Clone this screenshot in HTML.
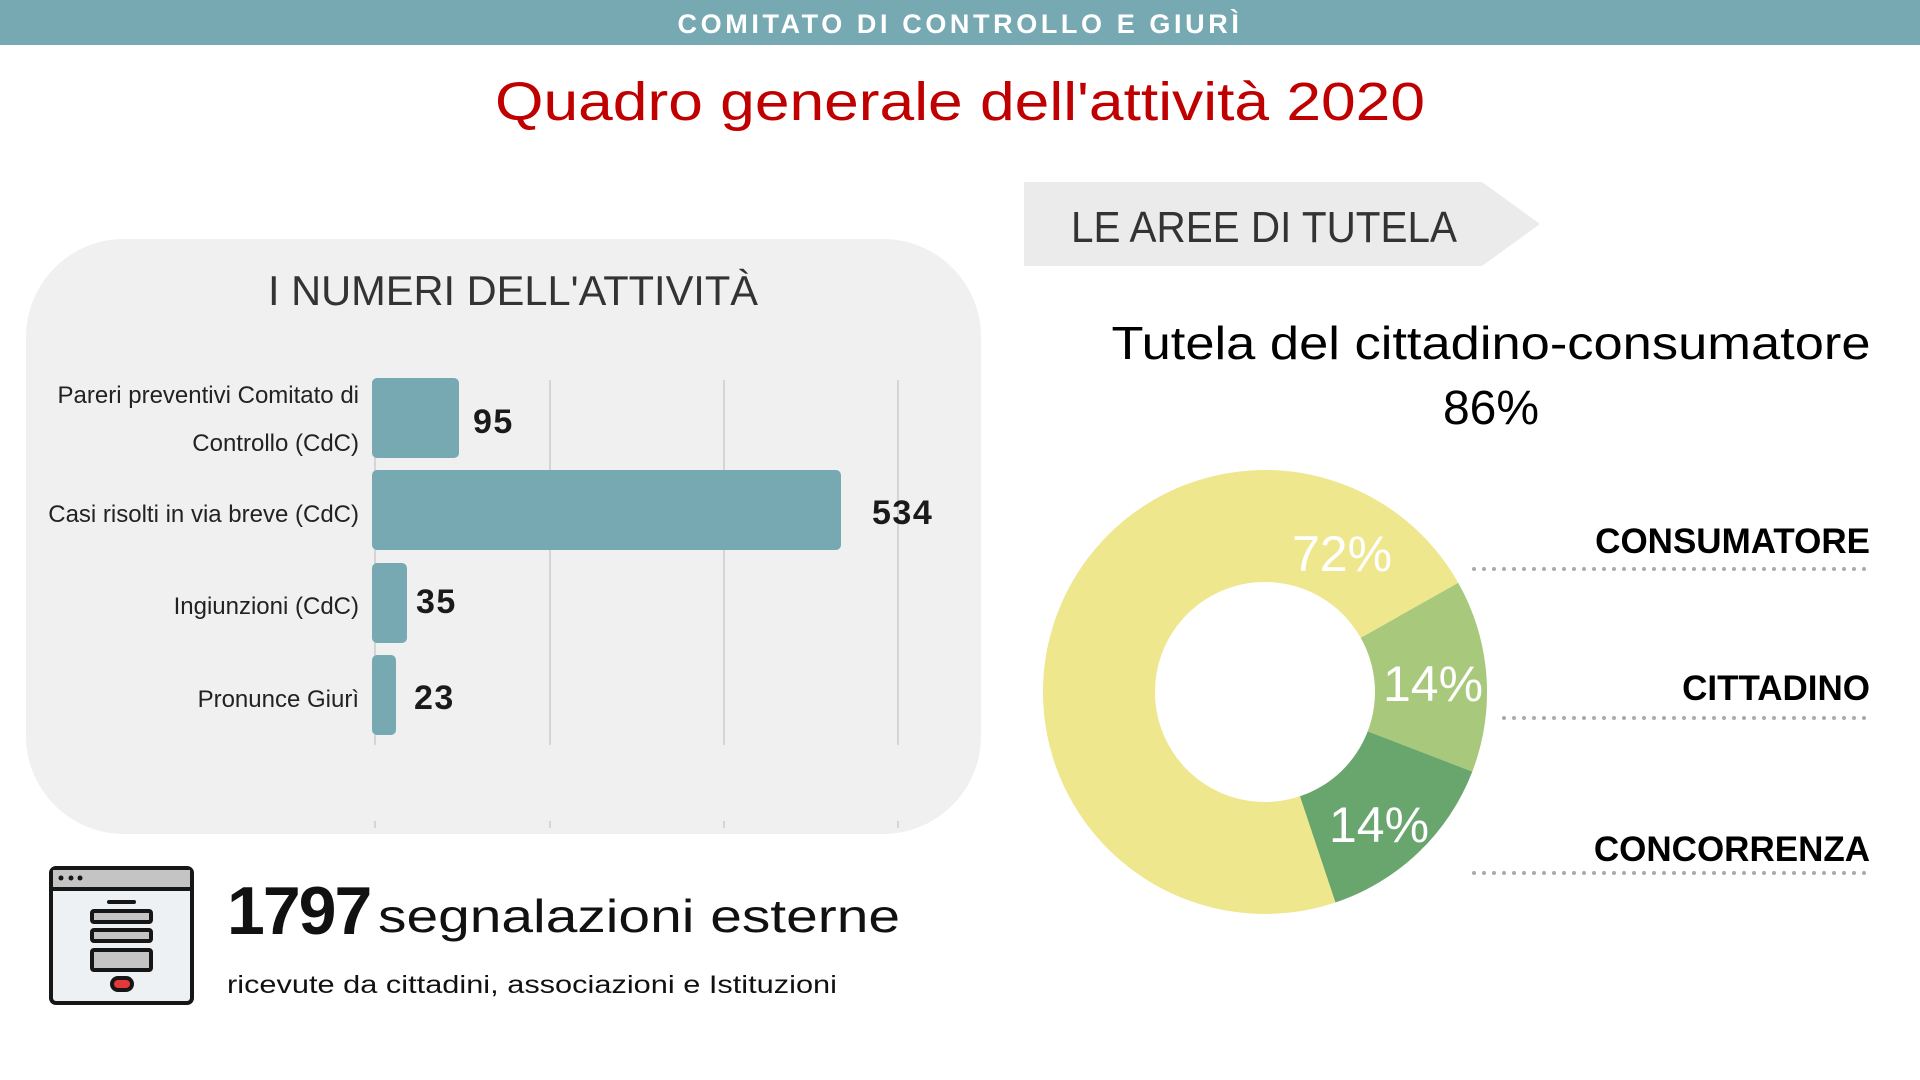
<!DOCTYPE html>
<html><head><meta charset="utf-8"><style>
html,body{margin:0;padding:0;background:#fff;}
svg{display:block;}
</style></head><body>
<svg width="1920" height="1080" viewBox="0 0 1920 1080" xmlns="http://www.w3.org/2000/svg" font-family="'Liberation Sans', sans-serif">
<rect x="0" y="0" width="1920" height="45" fill="#77a9b3"/>
<text x="960" y="33" text-anchor="middle" font-size="27" font-weight="bold" fill="#fff" letter-spacing="3.6">COMITATO DI CONTROLLO E GIURÌ</text>
<text x="960" y="120" text-anchor="middle" font-size="54" fill="#c00000" textLength="930" lengthAdjust="spacingAndGlyphs">Quadro generale dell'attività 2020</text>

<rect x="26" y="239" width="955" height="595" rx="98" fill="#f0f0f0"/>
<text x="513" y="305" text-anchor="middle" font-size="42" fill="#333" textLength="490" lengthAdjust="spacingAndGlyphs">I NUMERI DELL'ATTIVITÀ</text>
<g stroke="#cccccc" stroke-width="1.5">
<line x1="375" y1="380" x2="375" y2="745"/><line x1="550" y1="380" x2="550" y2="745"/><line x1="724" y1="380" x2="724" y2="745"/><line x1="898" y1="380" x2="898" y2="745"/>
<line x1="375" y1="821" x2="375" y2="828"/><line x1="550" y1="821" x2="550" y2="828"/><line x1="724" y1="821" x2="724" y2="828"/><line x1="898" y1="821" x2="898" y2="828"/>
</g>
<g fill="#77a9b3">
<rect x="372" y="378" width="87" height="80" rx="5"/>
<rect x="372" y="470" width="469" height="80" rx="5"/>
<rect x="372" y="563" width="35" height="80" rx="5"/>
<rect x="372" y="655" width="24" height="80" rx="5"/>
</g>
<g font-size="34" font-weight="bold" fill="#1a1a1a" letter-spacing="1.5">
<text x="473" y="433">95</text>
<text x="872" y="524">534</text>
<text x="416" y="613">35</text>
<text x="414" y="709">23</text>
</g>
<g font-size="24" fill="#222" text-anchor="end">
<text x="359" y="403">Pareri preventivi Comitato di</text>
<text x="359" y="451">Controllo (CdC)</text>
<text x="359" y="522">Casi risolti in via breve (CdC)</text>
<text x="359" y="614">Ingiunzioni (CdC)</text>
<text x="359" y="707">Pronunce Giurì</text>
</g>

<!-- icon -->
<g>
<rect x="51" y="868" width="141" height="135" rx="5" fill="#edf1f4" stroke="#161616" stroke-width="4"/>
<rect x="53" y="870" width="137" height="18" fill="#c4c4c4"/>
<line x1="51" y1="889" x2="192" y2="889" stroke="#161616" stroke-width="4"/>
<circle cx="61" cy="878" r="2.5" fill="#161616"/><circle cx="71" cy="878" r="2.5" fill="#161616"/><circle cx="80" cy="878" r="2.5" fill="#161616"/>
<line x1="109" y1="902" x2="134" y2="902" stroke="#161616" stroke-width="4" stroke-linecap="round"/>
<rect x="92" y="911" width="59" height="11" rx="2" fill="#c4c4c4" stroke="#161616" stroke-width="4"/>
<rect x="92" y="930" width="59" height="11" rx="2" fill="#c4c4c4" stroke="#161616" stroke-width="4"/>
<rect x="92" y="950" width="59" height="20" rx="2" fill="#c4c4c4" stroke="#161616" stroke-width="4"/>
<rect x="112" y="978" width="20" height="12" rx="6" fill="#e53838" stroke="#161616" stroke-width="4"/>
</g>
<text x="227" y="934" font-size="68" font-weight="bold" fill="#111" letter-spacing="-2">1797</text>
<text x="378" y="932" font-size="46" fill="#111" textLength="522" lengthAdjust="spacingAndGlyphs">segnalazioni esterne</text>
<text x="227" y="993" font-size="25" fill="#111" textLength="610" lengthAdjust="spacingAndGlyphs">ricevute da cittadini, associazioni e Istituzioni</text>

<!-- right -->
<polygon points="1024,182 1482,182 1540,224 1482,266 1024,266" fill="#ebebeb"/>
<text x="1071" y="242" font-size="44" fill="#333" textLength="386" lengthAdjust="spacingAndGlyphs">LE AREE DI TUTELA</text>
<text x="1491" y="359" text-anchor="middle" font-size="46" fill="#000" textLength="759" lengthAdjust="spacingAndGlyphs">Tutela del cittadino-consumatore</text>
<text x="1491" y="424" text-anchor="middle" font-size="48" fill="#000">86%</text>

<path d="M1458.2,582.7 A222,222 0 0 1 1472.3,771.6 L1367.7,731.4 A110,110 0 0 0 1360.7,637.8 Z" fill="#a8c87c"/>
<path d="M1472.3,771.6 A222,222 0 0 1 1335.4,902.5 L1299.9,796.3 A110,110 0 0 0 1367.7,731.4 Z" fill="#69a66e"/>
<path d="M1335.4,902.5 A222,222 0 1 1 1458.2,582.7 L1360.7,637.8 A110,110 0 1 0 1299.9,796.3 Z" fill="#efe78e"/>
<g font-size="50" fill="#fff" text-anchor="middle">
<text x="1342" y="571">72%</text>
<text x="1433" y="701">14%</text>
<text x="1379" y="842">14%</text>
</g>
<g font-size="35" font-weight="bold" fill="#000" text-anchor="end">
<text x="1870" y="553">CONSUMATORE</text>
<text x="1870" y="700">CITTADINO</text>
<text x="1870" y="861">CONCORRENZA</text>
</g>
<g stroke="#aaaaaa" stroke-width="4" stroke-linecap="round" stroke-dasharray="0 10">
<line x1="1474" y1="569" x2="1868" y2="569"/>
<line x1="1504" y1="718" x2="1868" y2="718"/>
<line x1="1474" y1="873" x2="1868" y2="873"/>
</g>
</svg>
</body></html>
